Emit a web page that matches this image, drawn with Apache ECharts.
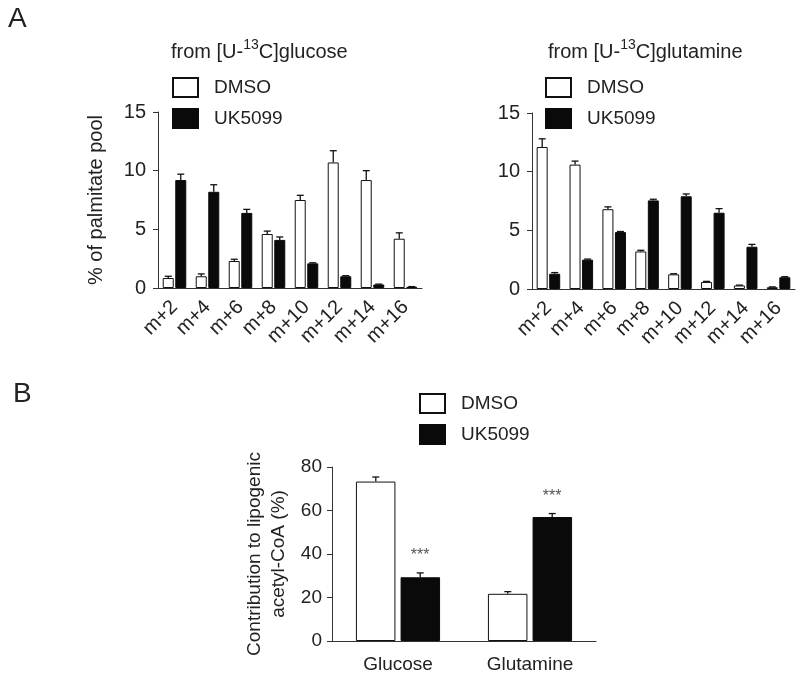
<!DOCTYPE html>
<html>
<head>
<meta charset="utf-8">
<script src="https://cdn.jsdelivr.net/npm/echarts@6/dist/echarts.min.js"></script>
<style>
  html, body { margin: 0; padding: 0; background: #fff; }
  #chart { width: 800px; height: 678px; }
</style>
</head>
<body>
<div id="chart"></div>
<script>
// isotopologues of palmitate
const isotopologues = ['m+2', 'm+4', 'm+6', 'm+8', 'm+10', 'm+12', 'm+14', 'm+16'];

// from [U-13C]glucose
const glcDmso    = [0.85, 1.0, 2.3, 4.6, 7.5, 10.7, 9.2, 4.2];
const glcDmsoErr = [0.15, 0.2, 0.15, 0.25, 0.4, 1.0, 0.8, 0.5];
const glcUk      = [9.2, 8.2, 6.4, 4.1, 2.1, 1.0, 0.3, 0.1];
const glcUkErr   = [0.5, 0.6, 0.3, 0.25, 0.05, 0.05, 0.03, 0.02];

// from [U-13C]glutamine
const glnDmso    = [12.1, 10.6, 6.8, 3.2, 1.25, 0.6, 0.3, 0.15];
const glnDmsoErr = [0.7, 0.3, 0.2, 0.1, 0.05, 0.05, 0.03, 0.03];
const glnUk      = [1.3, 2.5, 4.85, 7.55, 7.9, 6.5, 3.6, 1.0];
const glnUkErr   = [0.1, 0.05, 0.05, 0.1, 0.2, 0.35, 0.2, 0.05];

// panel B
const sources        = ['Glucose', 'Glutamine'];
const contribDmso    = [73.3, 21.7];
const contribDmsoErr = [2.1, 1.0];
const contribUk      = [29.3, 57.0];
const contribUkErr   = [2.0, 1.6];
const sigLabels      = ['***', '***'];

const FONT = '"Liberation Sans", Arial, Helvetica, sans-serif';
const INK = '#222';

const chart = echarts.init(document.getElementById('chart'));

// upper error bar with cap (+ optional significance text)
function errRender(offset, sig) {
  return function (params, api) {
    const i = api.value(0);
    const base = api.coord([i, api.value(1)]);
    const top = api.coord([i, api.value(1) + api.value(2)]);
    const cx = base[0] + offset;
    const kids = [
      { type: 'line', shape: { x1: cx, y1: base[1], x2: cx, y2: top[1] }, style: { stroke: '#111', lineWidth: 1.3 } },
      { type: 'line', shape: { x1: cx - 3.5, y1: top[1], x2: cx + 3.5, y2: top[1] }, style: { stroke: '#111', lineWidth: 1.3 } }
    ];
    if (sig && sig[params.dataIndex]) {
      kids.push({
        type: 'text',
        style: { text: sig[params.dataIndex], x: cx, y: top[1] - 17, align: 'center', verticalAlign: 'middle',
                 font: '16px ' + FONT, fill: '#555' }
      });
    }
    return { type: 'group', children: kids };
  };
}

function errData(vals, errs) {
  return vals.map((v, i) => [i, v, errs[i]]);
}

const dmsoStyle = { color: '#fff', borderColor: '#111', borderWidth: 1 };
const ukStyle = { color: '#0a0a0a', borderColor: '#0a0a0a', borderWidth: 1 };

function yAxisA(idx, withName) {
  return {
    gridIndex: idx, type: 'value', min: 0, max: 15, interval: 5,
    name: withName ? '% of palmitate pool' : '',
    nameLocation: 'middle', nameGap: 52,
    nameTextStyle: { fontFamily: FONT, fontSize: 20, color: INK },
    axisLine: { show: true, lineStyle: { color: '#333', width: 1 } },
    axisTick: { show: true, length: 5, lineStyle: { color: '#333' } },
    axisLabel: { fontFamily: FONT, fontSize: 20, color: INK, margin: 12 },
    splitLine: { show: false }
  };
}

function xAxisA(idx) {
  return {
    gridIndex: idx, type: 'category', data: isotopologues,
    axisLine: { lineStyle: { color: '#333', width: 1 } },
    axisTick: { show: false },
    axisLabel: { fontFamily: FONT, fontSize: 20, color: INK, rotate: 45, margin: 16, interval: 0 }
  };
}

const BW = 11, GAP = '14%', OFF = 6.25;
const BWB = 39.5, GAPB = '13%', OFFB = 22.2;

function legendAt(left, top) {
  return {
    orient: 'vertical', left: left, top: top, padding: 0,
    itemWidth: 25, itemHeight: 19, itemGap: 10, icon: 'rect',
    selectedMode: false,
    textStyle: { fontFamily: FONT, fontSize: 19, color: INK, padding: [0, 0, 0, 11] },
    data: ['DMSO', 'UK5099']
  };
}

function titleRich(left, top, pre, post) {
  return {
    left: left, top: top, padding: 0,
    text: '{n|' + pre + '}{s|13}{n|' + post + '}',
    textStyle: {
      rich: {
        n: { fontFamily: FONT, fontSize: 20, fontWeight: 'normal', color: INK, lineHeight: 24, verticalAlign: 'bottom' },
        s: { fontFamily: FONT, fontSize: 14, fontWeight: 'normal', color: INK, lineHeight: 14, verticalAlign: 'top' }
      }
    }
  };
}

const option = {
  backgroundColor: '#fff',
  animation: false,
  title: [
    { text: 'A', left: 8, top: 5, padding: 0, textStyle: { fontFamily: FONT, fontSize: 28, fontWeight: 'normal', color: INK } },
    { text: 'B', left: 13, top: 380, padding: 0, textStyle: { fontFamily: FONT, fontSize: 28, fontWeight: 'normal', color: INK } },
    titleRich(171, 38, 'from [U-', 'C]glucose'),
    titleRich(548, 38, 'from [U-', 'C]glutamine')
  ],
  legend: [legendAt(172, 77), legendAt(545, 77), legendAt(419, 393)],
  grid: [
    { left: 158, top: 112, width: 264, height: 176 },
    { left: 532, top: 113, width: 263, height: 176 },
    { left: 332, top: 467, width: 264, height: 174 }
  ],
  xAxis: [
    xAxisA(0), xAxisA(1),
    {
      gridIndex: 2, type: 'category', data: sources,
      axisLine: { lineStyle: { color: '#333', width: 1 } },
      axisTick: { show: false },
      axisLabel: { fontFamily: FONT, fontSize: 19, color: INK, margin: 14 }
    }
  ],
  yAxis: [
    yAxisA(0, true), yAxisA(1, false),
    {
      gridIndex: 2, type: 'value', min: 0, max: 80, interval: 20,
      name: 'Contribution to lipogenic\nacetyl-CoA (%)',
      nameLocation: 'middle', nameGap: 41,
      nameTextStyle: { fontFamily: FONT, fontSize: 19, color: INK, lineHeight: 24 },
      axisLine: { show: true, lineStyle: { color: '#333', width: 1 } },
      axisTick: { show: true, length: 5, lineStyle: { color: '#333' } },
      axisLabel: { fontFamily: FONT, fontSize: 19, color: INK, margin: 10 },
      splitLine: { show: false }
    }
  ],
  series: [
    { name: 'DMSO', type: 'bar', xAxisIndex: 0, yAxisIndex: 0, data: glcDmso, barWidth: BW, barGap: GAP, itemStyle: dmsoStyle },
    { name: 'UK5099', type: 'bar', xAxisIndex: 0, yAxisIndex: 0, data: glcUk, barWidth: BW, barGap: GAP, itemStyle: ukStyle },
    { type: 'custom', xAxisIndex: 0, yAxisIndex: 0, renderItem: errRender(-OFF), data: errData(glcDmso, glcDmsoErr), z: 3 },
    { type: 'custom', xAxisIndex: 0, yAxisIndex: 0, renderItem: errRender(OFF), data: errData(glcUk, glcUkErr), z: 3 },

    { name: 'DMSO', type: 'bar', xAxisIndex: 1, yAxisIndex: 1, data: glnDmso, barWidth: BW, barGap: GAP, itemStyle: dmsoStyle },
    { name: 'UK5099', type: 'bar', xAxisIndex: 1, yAxisIndex: 1, data: glnUk, barWidth: BW, barGap: GAP, itemStyle: ukStyle },
    { type: 'custom', xAxisIndex: 1, yAxisIndex: 1, renderItem: errRender(-OFF), data: errData(glnDmso, glnDmsoErr), z: 3 },
    { type: 'custom', xAxisIndex: 1, yAxisIndex: 1, renderItem: errRender(OFF), data: errData(glnUk, glnUkErr), z: 3 },

    { name: 'DMSO', type: 'bar', xAxisIndex: 2, yAxisIndex: 2, data: contribDmso, barWidth: BWB, barGap: GAPB, itemStyle: dmsoStyle },
    { name: 'UK5099', type: 'bar', xAxisIndex: 2, yAxisIndex: 2, data: contribUk, barWidth: BWB, barGap: GAPB, itemStyle: ukStyle },
    { type: 'custom', xAxisIndex: 2, yAxisIndex: 2, renderItem: errRender(-OFFB), data: errData(contribDmso, contribDmsoErr), z: 3 },
    { type: 'custom', xAxisIndex: 2, yAxisIndex: 2, renderItem: errRender(OFFB, sigLabels), data: errData(contribUk, contribUkErr), z: 3 }
  ]
};

chart.setOption(option);
</script>
</body>
</html>
